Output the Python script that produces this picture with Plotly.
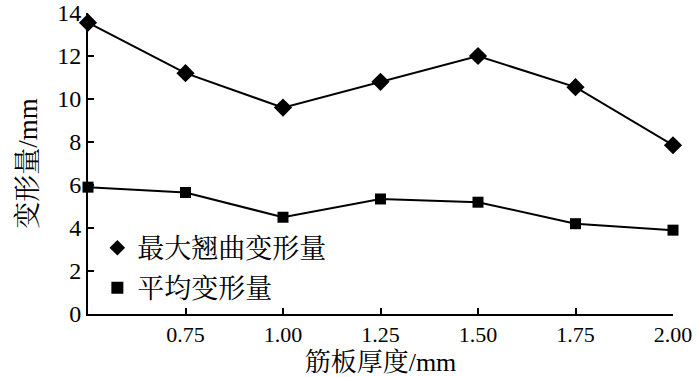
import plotly.graph_objects as go

thickness = [0.50, 0.75, 1.00, 1.25, 1.50, 1.75, 2.00]
max_warp = [13.55, 11.2, 9.6, 10.8, 12.0, 10.55, 7.85]
avg_def = [5.9, 5.65, 4.5, 5.35, 5.2, 4.2, 3.9]
x_tickvals = [0.75, 1.00, 1.25, 1.50, 1.75, 2.00]
x_ticktext = ["0.75", "1.00", "1.25", "1.50", "1.75", "2.00"]
y_tickvals = [0, 2, 4, 6, 8, 10, 12, 14]
name_max = "最大翘曲变形量"
name_avg = "平均变形量"

FONT = "Liberation Serif, Times New Roman, Noto Serif CJK SC, Noto Sans CJK SC, serif"

fig = go.Figure()
fig.add_trace(go.Scatter(x=thickness, y=max_warp, mode="lines+markers", showlegend=False,
                         line=dict(color="black", width=2),
                         marker=dict(symbol="diamond", size=14, color="black"),
                         cliponaxis=False))
fig.add_trace(go.Scatter(x=thickness, y=avg_def, mode="lines+markers", showlegend=False,
                         line=dict(color="black", width=2),
                         marker=dict(symbol="square", size=11, color="black"),
                         cliponaxis=False))
fig.add_trace(go.Scatter(x=[None], y=[None], mode="markers", name=name_max, legendgroup="a",
                         marker=dict(symbol="diamond", size=12, color="black")))
fig.add_trace(go.Scatter(x=[None], y=[None], mode="markers", name=name_avg, legendgroup="b",
                         marker=dict(symbol="square", size=11, color="black")))

fig.update_layout(
    width=700, height=377,
    margin=dict(l=88, r=27, t=13, b=63),
    paper_bgcolor="white", plot_bgcolor="white",
    font=dict(family=FONT, size=20, color="black"),
    legend=dict(x=0.016, y=0.30, xanchor="left", yanchor="top",
                bgcolor="rgba(0,0,0,0)", font=dict(size=27),
                tracegroupgap=2, itemsizing="constant", itemwidth=30),
)
fig.update_xaxes(range=[0.5, 2.0], tickvals=x_tickvals, ticktext=x_ticktext,
                 showline=True, linecolor="black", linewidth=2, mirror=False,
                 ticks="inside", ticklen=6, tickwidth=1.5, tickcolor="black",
                 showgrid=False, zeroline=False, automargin=False,
                 ticklabeloverflow="allow",
                 title=dict(text="筋板厚度/mm", standoff=8, font=dict(size=26)),
                 tickfont=dict(size=22))
fig.update_yaxes(range=[0, 14], tickvals=y_tickvals,
                 showline=True, linecolor="black", linewidth=2,
                 ticks="inside", ticklen=6, tickwidth=1.5, tickcolor="black",
                 showgrid=False, zeroline=False, automargin=False,
                 ticklabeloverflow="allow",
                 title=dict(text="变形量/mm", standoff=12, font=dict(size=27)),
                 tickfont=dict(size=24))

fig.write_html("out.html", config={"displayModeBar": False},
               post_script="document.body.style.margin='0';")
